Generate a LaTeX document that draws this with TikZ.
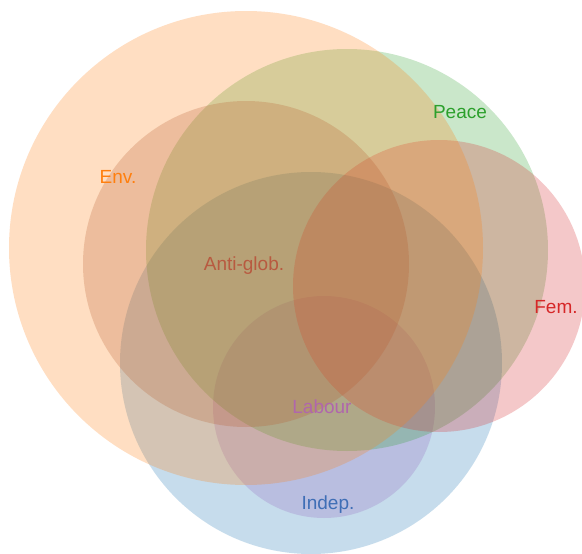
\documentclass[tikz,border=0pt]{standalone}
\usepackage{fontspec}
\setmainfont{Liberation Sans}
\definecolor{cEnv}{HTML}{FF7F0E}
\definecolor{cPeace}{HTML}{2CA02C}
\definecolor{cFem}{HTML}{D62728}
\definecolor{cAnti}{HTML}{B85A40}
\definecolor{cAntiFill}{HTML}{A0523A}
\definecolor{cIndep}{HTML}{1F77B4}
\definecolor{cIndepText}{HTML}{3F6EB6}
\definecolor{cLabour}{HTML}{9467BD}
\definecolor{cLabourText}{HTML}{B066AC}
\tikzset{
  setcircle/.style={fill=#1, fill opacity=0.25, draw=none},
  setlabel/.style={text=#1, anchor=base, inner sep=0pt, font=\fontsize{19}{21}\selectfont}
}
\begin{document}
\begin{tikzpicture}[x=1pt,y=-1pt]
\useasboundingbox (0,0) rectangle (582,554);
\fill[white] (0,0) rectangle (582,554);
\begin{scope}
\clip (0,0) rectangle (582,554);
\path[setcircle=cIndep] (311,363) circle[radius=191pt];
\path[setcircle=cLabour] (324,407) circle[radius=111pt];
\path[setcircle=cPeace] (347,250) circle[radius=201pt];
\path[setcircle=cFem] (439,286) circle[radius=146pt];
\path[setcircle=cAntiFill] (246,264) circle[radius=163pt];
\path[setcircle=cEnv] (246,248) circle[radius=237pt];
\end{scope}
\node[setlabel=cEnv] (env) at (118,183) {Env.};
\node[setlabel=cPeace] (peace) at (460,118) {Peace};
\node[setlabel=cFem] (fem) at (556,313) {Fem.};
\node[setlabel=cAnti] (anti) at (244,270) {Anti-glob.};
\node[setlabel=cLabourText] (labour) at (322,413) {Labour};
\node[setlabel=cIndepText] (indep) at (328,509) {Indep.};
\end{tikzpicture}
\end{document}
